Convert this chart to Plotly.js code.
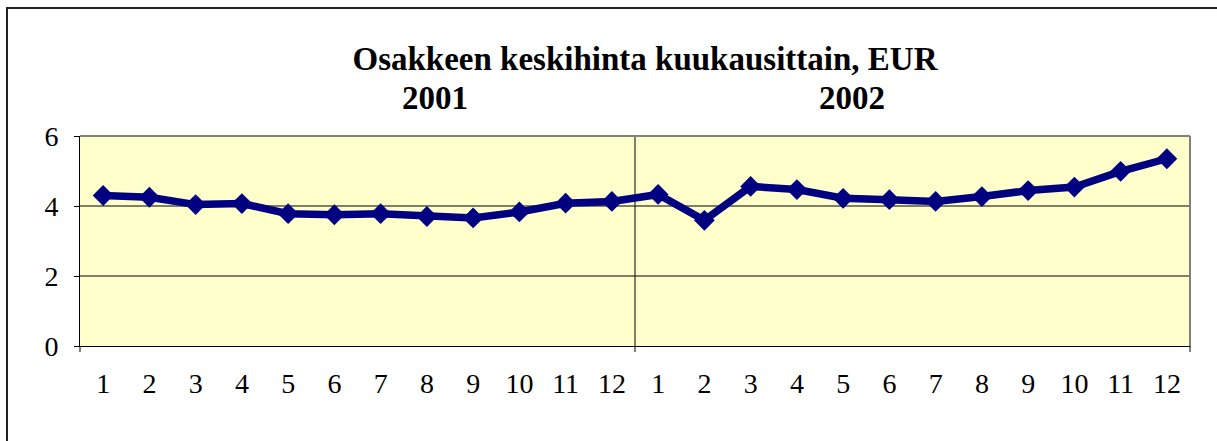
<!DOCTYPE html>
<html>
<head>
<meta charset="utf-8">
<script src="https://cdn.plot.ly/plotly-3.0.1.min.js"></script>
<style>html,body{margin:0;padding:0;background:#fff;}#chart{width:1217px;height:441px;}</style>
</head>
<body>
<div id="chart"></div>
<script>
var monthLabels = ["1","2","3","4","5","6","7","8","9","10","11","12","1","2","3","4","5","6","7","8","9","10","11","12"];
var years = ["2001", "2002"];
var prices = [4.30, 4.25, 4.04, 4.07, 3.78, 3.75, 3.78, 3.70, 3.66, 3.83, 4.08, 4.13,
              4.33, 3.59, 4.56, 4.47, 4.22, 4.18, 4.13, 4.27, 4.44, 4.54, 4.99, 5.35];
var titleText = "Osakkeen keskihinta kuukausittain, EUR";
var yTicks = [0, 2, 4, 6];

var xIdx = monthLabels.map(function(_, i){ return i; });

var trace = {
  x: xIdx,
  y: prices,
  type: 'scatter',
  mode: 'lines+markers',
  line: {color: '#000080', width: 7.5},
  marker: {symbol: 'diamond', size: 16, color: '#000080'},
  hoverinfo: 'y'
};

var serif = 'Liberation Serif, Times New Roman, serif';
var layout = {
  width: 1217, height: 441,
  margin: {l: 80, r: 27, t: 136, b: 95},
  paper_bgcolor: '#ffffff',
  plot_bgcolor: '#FFFFCC',
  showlegend: false,
  font: {family: serif, color: '#000'},
  title: {
    text: '<b>' + titleText + '</b>',
    font: {family: serif, size: 33, color: '#000'},
    x: 645/1217, xanchor: 'center', xref: 'container',
    y: 1 - 58/441, yanchor: 'middle', yref: 'container'
  },
  xaxis: {
    range: [-0.5, 23.5],
    tickvals: xIdx,
    ticktext: monthLabels,
    ticks: '',
    showgrid: false,
    zeroline: false,
    showline: true, linecolor: '#000', linewidth: 1,
    tickfont: {family: serif, size: 28, color: '#000'},
    ticklabelstandoff: 12,
    fixedrange: true
  },
  yaxis: {
    range: [0, 6],
    tickvals: yTicks,
    ticks: 'outside', ticklen: 5, tickcolor: '#000', tickwidth: 1,
    showgrid: false,
    zeroline: false,
    showline: true, linecolor: '#000', linewidth: 1,
    tickfont: {family: serif, size: 28, color: '#000'},
    ticklabelstandoff: 10,
    fixedrange: true
  },
  annotations: [
    {text: '<b>' + years[0] + '</b>', xref: 'paper', yref: 'paper', x: (435-80)/1110, y: (346-98)/210,
     xanchor: 'center', yanchor: 'middle', showarrow: false, font: {family: serif, size: 33, color: '#000'}},
    {text: '<b>' + years[1] + '</b>', xref: 'paper', yref: 'paper', x: (852-80)/1110, y: (346-98)/210,
     xanchor: 'center', yanchor: 'middle', showarrow: false, font: {family: serif, size: 33, color: '#000'}}
  ],
  shapes: [
    // gridlines (the one at 4 renders as a soft 2px gray line in the reference)
    {type: 'line', xref: 'paper', yref: 'y', x0: 0, x1: 1, y0: yTicks[1], y1: yTicks[1], line: {color: '#000', width: 1}, layer: 'below'},
    {type: 'line', xref: 'paper', yref: 'y', x0: 0, x1: 1, y0: yTicks[2], y1: yTicks[2], line: {color: '#7f7f66', width: 2}, layer: 'below'},
    // year separator
    {type: 'line', xref: 'paper', yref: 'paper', x0: 0.5, x1: 0.5, y0: 0, y1: 1, line: {color: '#000', width: 1}, layer: 'below'},
    // plot area top/right border (gray)
    {type: 'line', xref: 'paper', yref: 'paper', x0: 0, x1: 1, y0: 1, y1: 1, line: {color: '#808080', width: 2}},
    {type: 'line', xref: 'paper', yref: 'paper', x0: 1, x1: 1, y0: 0, y1: 1, line: {color: '#808080', width: 2}},
    // category axis tick marks at year boundaries
    {type: 'line', xref: 'paper', yref: 'paper', x0: 0, x1: 0, y0: 0, y1: -6/210, line: {color: '#000', width: 1}},
    {type: 'line', xref: 'paper', yref: 'paper', x0: 0.5, x1: 0.5, y0: 0, y1: -6/210, line: {color: '#000', width: 1}},
    {type: 'line', xref: 'paper', yref: 'paper', x0: 1, x1: 1, y0: 0, y1: -6/210, line: {color: '#000', width: 1}},
    // outer chart border
    {type: 'rect', xref: 'paper', yref: 'paper', x0: (7-80)/1110, x1: 1.2, y0: -1, y1: (346-8)/210,
     line: {color: '#222', width: 2}, fillcolor: 'rgba(0,0,0,0)', layer: 'below'}
  ]
};

Plotly.newPlot('chart', [trace], layout, {displayModeBar: false, staticPlot: true});
</script>
</body>
</html>
